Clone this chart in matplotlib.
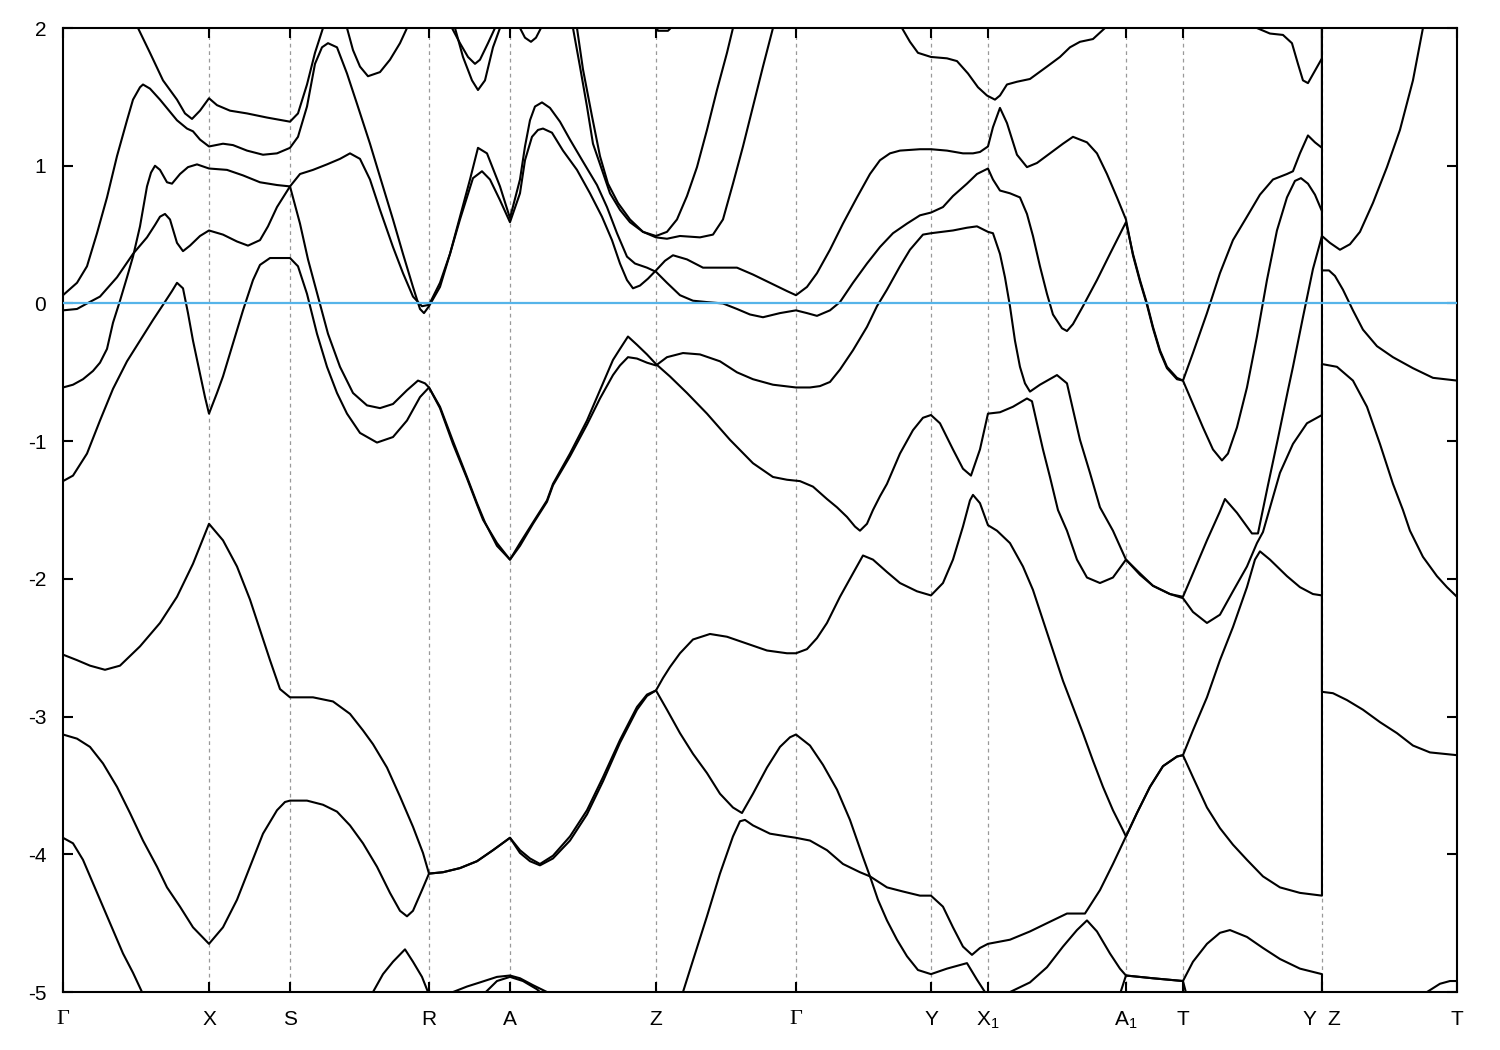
import matplotlib
matplotlib.use("Agg")
import matplotlib.pyplot as plt

plt.rcParams['font.family'] = ['Liberation Sans', 'DejaVu Sans']
plt.rcParams['mathtext.fontset'] = 'custom'
plt.rcParams['mathtext.rm'] = 'Liberation Sans'
plt.rcParams['mathtext.it'] = 'Liberation Sans:italic'
plt.rcParams['mathtext.bf'] = 'Liberation Sans:bold'
plt.rcParams['axes.unicode_minus'] = False

# high-symmetry points along the path (path length units)
kpoints = [0.00, 1.46, 2.27, 3.66, 4.47, 5.93, 7.33, 8.68, 9.25, 10.63, 11.20, 12.59, 13.94]
klabels = ['Γ', 'X', 'S', 'R', 'A', 'Z', 'Γ', 'Y', r'X$_\mathrm{1}$', r'A$_\mathrm{1}$', 'T', 'Y  Z', 'T']

# bands, (k, E in eV)
band_t1 = [(0.72, 2.06), (0.75, 2.00), (0.87, 1.82), (1.00, 1.62), (1.14, 1.48), (1.22, 1.38), (1.29, 1.34),
           (1.37, 1.40), (1.46, 1.49), (1.54, 1.44), (1.67, 1.40), (1.84, 1.38), (2.04, 1.35), (2.27, 1.32),
           (2.35, 1.38), (2.44, 1.59), (2.52, 1.82), (2.60, 2.00), (2.62, 2.06)]

band_t2 = [(0.00, 0.06), (0.14, 0.15), (0.24, 0.27), (0.34, 0.51), (0.44, 0.77), (0.54, 1.07), (0.64, 1.33),
           (0.70, 1.48), (0.77, 1.57), (0.80, 1.59), (0.87, 1.56), (0.97, 1.48), (1.14, 1.33), (1.24, 1.27),
           (1.30, 1.25), (1.37, 1.19), (1.46, 1.14), (1.60, 1.16), (1.70, 1.15), (1.84, 1.11), (2.00, 1.08),
           (2.14, 1.09), (2.27, 1.13), (2.35, 1.21), (2.44, 1.43), (2.52, 1.74), (2.59, 1.86), (2.65, 1.89),
           (2.74, 1.86), (2.84, 1.67), (2.94, 1.45), (3.07, 1.16), (3.17, 0.92), (3.30, 0.61), (3.40, 0.36),
           (3.50, 0.12), (3.57, -0.04), (3.61, -0.07), (3.66, -0.02), (3.77, 0.12), (3.87, 0.36), (3.97, 0.63),
           (4.07, 0.90), (4.15, 1.13), (4.24, 1.09), (4.37, 0.85), (4.47, 0.62),
           (4.57, 0.90), (4.62, 1.14), (4.67, 1.33), (4.72, 1.43), (4.79, 1.46), (4.87, 1.42), (4.97, 1.32),
           (5.07, 1.19), (5.20, 1.03), (5.34, 0.86), (5.44, 0.70), (5.54, 0.51), (5.64, 0.34), (5.72, 0.29),
           (5.84, 0.26), (5.93, 0.23), (6.04, 0.15), (6.17, 0.06), (6.30, 0.02), (6.44, 0.01), (6.60, 0.00),
           (6.74, -0.04), (6.87, -0.08), (7.00, -0.10), (7.17, -0.07), (7.33, -0.05), (7.44, -0.07), (7.54, -0.09),
           (7.67, -0.05), (7.77, 0.01), (7.90, 0.15), (8.04, 0.29), (8.17, 0.41), (8.30, 0.51), (8.44, 0.58),
           (8.57, 0.64), (8.68, 0.66), (8.80, 0.70), (8.90, 0.78), (9.04, 0.87), (9.14, 0.94), (9.25, 0.98),
           (9.30, 0.90), (9.37, 0.82), (9.47, 0.80), (9.57, 0.77), (9.64, 0.65), (9.70, 0.49), (9.77, 0.27),
           (9.84, 0.07), (9.90, -0.08), (9.99, -0.18), (10.04, -0.20), (10.10, -0.15), (10.20, -0.02),
           (10.34, 0.17), (10.47, 0.36), (10.63, 0.59), (10.70, 0.36), (10.77, 0.17), (10.84, 0.00),
           (10.90, -0.17), (10.97, -0.34), (11.04, -0.46), (11.14, -0.54), (11.20, -0.56), (11.30, -0.36),
           (11.44, -0.07), (11.57, 0.22), (11.70, 0.46), (11.84, 0.63), (11.97, 0.79), (12.10, 0.90),
           (12.24, 0.94), (12.30, 0.96), (12.37, 1.09), (12.45, 1.22), (12.52, 1.17), (12.59, 1.13), (12.59, 2.30)]

band_t3 = [(0.00, -0.05), (0.14, -0.04), (0.24, 0.00), (0.37, 0.05), (0.54, 0.19), (0.70, 0.36), (0.84, 0.48),
           (0.92, 0.57), (0.97, 0.63), (1.02, 0.65), (1.07, 0.61), (1.14, 0.44), (1.20, 0.38), (1.27, 0.42),
           (1.37, 0.49), (1.46, 0.53), (1.60, 0.50), (1.74, 0.45), (1.85, 0.42), (1.97, 0.46), (2.05, 0.56),
           (2.14, 0.70), (2.27, 0.85), (2.37, 0.94), (2.50, 0.97), (2.64, 1.01), (2.77, 1.05), (2.87, 1.09),
           (2.97, 1.05), (3.07, 0.90), (3.17, 0.68), (3.30, 0.41), (3.40, 0.22), (3.50, 0.05), (3.59, -0.02),
           (3.66, -0.01), (3.77, 0.15), (3.87, 0.36), (3.97, 0.61), (4.10, 0.91), (4.19, 0.96), (4.27, 0.90),
           (4.37, 0.75), (4.47, 0.59),
           (4.57, 0.80), (4.62, 1.04), (4.69, 1.21), (4.75, 1.26), (4.80, 1.27), (4.89, 1.24), (5.00, 1.11),
           (5.14, 0.97), (5.27, 0.80), (5.39, 0.63), (5.49, 0.46), (5.57, 0.29), (5.64, 0.17), (5.70, 0.11),
           (5.77, 0.13), (5.85, 0.18), (5.93, 0.24), (6.02, 0.31), (6.10, 0.35), (6.24, 0.32), (6.40, 0.26),
           (6.57, 0.26), (6.74, 0.26), (6.90, 0.21), (7.07, 0.15), (7.24, 0.09), (7.33, 0.06), (7.44, 0.12),
           (7.54, 0.22), (7.67, 0.39), (7.80, 0.58), (7.94, 0.77), (8.07, 0.94), (8.17, 1.04), (8.27, 1.09),
           (8.37, 1.11), (8.57, 1.12), (8.68, 1.12), (8.84, 1.11), (9.00, 1.09), (9.10, 1.09), (9.17, 1.10),
           (9.25, 1.14), (9.30, 1.28), (9.37, 1.42), (9.44, 1.31), (9.54, 1.08), (9.64, 0.99), (9.74, 1.02),
           (9.87, 1.09), (10.00, 1.16), (10.10, 1.21), (10.24, 1.17), (10.34, 1.09), (10.44, 0.94),
           (10.54, 0.77), (10.63, 0.61), (10.70, 0.35), (10.77, 0.16), (10.84, -0.01), (10.90, -0.18),
           (10.97, -0.35), (11.04, -0.47), (11.14, -0.55), (11.20, -0.56), (11.30, -0.73), (11.40, -0.90),
           (11.50, -1.06), (11.59, -1.14), (11.65, -1.09), (11.74, -0.90), (11.84, -0.61), (11.94, -0.24),
           (12.04, 0.17), (12.14, 0.53), (12.24, 0.77), (12.32, 0.89), (12.38, 0.91), (12.45, 0.87),
           (12.52, 0.79), (12.59, 0.67),
           (12.59, 0.24), (12.66, 0.24), (12.72, 0.20), (12.80, 0.10), (12.90, -0.05), (13.00, -0.19),
           (13.14, -0.31), (13.30, -0.39), (13.50, -0.47), (13.70, -0.54), (13.94, -0.56)]

band_t4 = [(0.00, -0.61), (0.10, -0.59), (0.20, -0.55), (0.30, -0.49), (0.37, -0.43), (0.44, -0.33),
           (0.50, -0.14), (0.57, 0.02), (0.64, 0.19), (0.70, 0.34), (0.77, 0.56), (0.84, 0.85), (0.88, 0.95),
           (0.92, 1.00), (0.97, 0.97), (1.04, 0.88), (1.09, 0.87), (1.17, 0.94), (1.25, 0.99), (1.34, 1.01),
           (1.46, 0.98), (1.64, 0.97), (1.80, 0.93), (1.97, 0.88), (2.14, 0.86), (2.27, 0.85), (2.37, 0.58),
           (2.45, 0.32), (2.55, 0.05), (2.65, -0.22), (2.77, -0.46), (2.90, -0.65), (3.04, -0.74),
           (3.17, -0.76), (3.30, -0.73), (3.44, -0.63), (3.55, -0.56), (3.62, -0.58), (3.66, -0.61),
           (3.77, -0.76), (3.90, -1.02), (4.04, -1.27), (4.14, -1.46), (4.20, -1.57), (4.34, -1.74),
           (4.47, -1.86),
           (4.57, -1.74), (4.70, -1.59), (4.84, -1.43), (4.90, -1.31), (5.07, -1.09), (5.24, -0.85),
           (5.37, -0.63), (5.50, -0.41), (5.57, -0.33), (5.65, -0.24), (5.74, -0.30), (5.84, -0.37),
           (5.93, -0.44), (6.07, -0.53), (6.24, -0.65), (6.44, -0.80), (6.67, -0.99), (6.90, -1.16),
           (7.10, -1.26), (7.24, -1.28), (7.37, -1.29), (7.50, -1.33), (7.64, -1.42), (7.74, -1.48),
           (7.84, -1.55), (7.92, -1.62), (7.97, -1.65), (8.04, -1.60), (8.10, -1.50), (8.17, -1.40),
           (8.24, -1.31), (8.37, -1.09), (8.50, -0.92), (8.60, -0.83), (8.68, -0.81), (8.77, -0.87),
           (8.90, -1.06), (9.00, -1.20), (9.08, -1.25), (9.17, -1.06), (9.25, -0.80), (9.37, -0.79),
           (9.50, -0.75), (9.64, -0.69), (9.69, -0.71), (9.74, -0.87), (9.80, -1.06), (9.87, -1.26),
           (9.95, -1.50), (10.04, -1.65), (10.14, -1.86), (10.24, -1.99), (10.37, -2.03), (10.50, -1.99),
           (10.63, -1.86), (10.77, -1.96), (10.90, -2.05), (11.07, -2.11), (11.20, -2.14), (11.30, -2.24),
           (11.44, -2.32), (11.57, -2.26), (11.70, -2.09), (11.84, -1.91), (11.94, -1.74), (12.00, -1.66),
           (12.17, -1.23), (12.30, -1.02), (12.44, -0.87), (12.59, -0.81),
           (12.59, 0.49), (12.67, 0.44), (12.77, 0.39), (12.87, 0.43), (12.97, 0.52), (13.10, 0.73),
           (13.24, 0.99), (13.37, 1.26), (13.50, 1.62), (13.60, 2.00), (13.62, 2.06)]

band_t5 = [(0.00, -1.29), (0.10, -1.25), (0.24, -1.09), (0.37, -0.85), (0.50, -0.62), (0.64, -0.42),
           (0.77, -0.27), (0.90, -0.12), (1.00, -0.01), (1.09, 0.09), (1.14, 0.15), (1.20, 0.11), (1.25, -0.07),
           (1.30, -0.27), (1.37, -0.51), (1.42, -0.68), (1.46, -0.80), (1.54, -0.65), (1.60, -0.53),
           (1.70, -0.29), (1.80, -0.05), (1.90, 0.17), (1.97, 0.28), (2.07, 0.33), (2.27, 0.33), (2.35, 0.27),
           (2.44, 0.07), (2.54, -0.22), (2.64, -0.46), (2.74, -0.65), (2.84, -0.80), (2.97, -0.94),
           (3.14, -1.01), (3.30, -0.97), (3.44, -0.85), (3.57, -0.68), (3.66, -0.61), (3.77, -0.75),
           (3.90, -1.00), (4.04, -1.26), (4.14, -1.45), (4.22, -1.59), (4.34, -1.76), (4.47, -1.86),
           (4.57, -1.76), (4.70, -1.60), (4.84, -1.44), (4.90, -1.32), (5.07, -1.11), (5.24, -0.88),
           (5.37, -0.69), (5.50, -0.52), (5.57, -0.45), (5.65, -0.39), (5.74, -0.40), (5.84, -0.43),
           (5.93, -0.45), (6.04, -0.39), (6.20, -0.36), (6.37, -0.37), (6.57, -0.42), (6.74, -0.50),
           (6.90, -0.55), (7.10, -0.59), (7.33, -0.61), (7.47, -0.61), (7.57, -0.60), (7.67, -0.57),
           (7.77, -0.48), (7.90, -0.34), (8.04, -0.17), (8.14, -0.02), (8.24, 0.10), (8.37, 0.27),
           (8.47, 0.39), (8.60, 0.50), (8.68, 0.51), (8.90, 0.53), (9.04, 0.55), (9.14, 0.56), (9.25, 0.52),
           (9.30, 0.51), (9.37, 0.36), (9.42, 0.19), (9.47, -0.02), (9.52, -0.27), (9.57, -0.46),
           (9.62, -0.58), (9.67, -0.64), (9.77, -0.59), (9.94, -0.52), (10.04, -0.58), (10.10, -0.77),
           (10.17, -0.99), (10.27, -1.23), (10.37, -1.48), (10.50, -1.65), (10.63, -1.86), (10.77, -1.97),
           (10.90, -2.05), (11.07, -2.11), (11.20, -2.13), (11.30, -1.96), (11.44, -1.72), (11.57, -1.51),
           (11.62, -1.42), (11.74, -1.52), (11.84, -1.62), (11.89, -1.67), (11.95, -1.67), (12.05, -1.32),
           (12.15, -0.98), (12.25, -0.63), (12.30, -0.46), (12.40, -0.10), (12.50, 0.25), (12.59, 0.49),
           (12.59, 2.30)]

band_t6 = [(2.82, 2.06), (2.84, 2.00), (2.90, 1.84), (2.97, 1.72), (3.05, 1.65), (3.17, 1.68), (3.27, 1.77),
           (3.37, 1.89), (3.44, 2.00), (3.46, 2.06)]
band_t7 = [(3.87, 2.06), (3.89, 2.00), (3.97, 1.89), (4.05, 1.79), (4.12, 1.74), (4.17, 1.77), (4.25, 1.89),
           (4.32, 2.00), (4.34, 2.06)]
band_t8 = [(3.90, 2.06), (3.92, 2.00), (4.00, 1.79), (4.09, 1.62), (4.15, 1.55), (4.22, 1.62), (4.30, 1.86),
           (4.37, 2.00), (4.39, 2.06)]
band_t9 = [(4.55, 2.06), (4.57, 2.00), (4.62, 1.93), (4.68, 1.90), (4.73, 1.93), (4.78, 2.00), (4.80, 2.06)]
band_t10 = [(5.90, 2.06), (5.95, 1.98), (6.05, 1.98), (6.12, 2.03)]

band_zp1 = [(5.08, 2.06), (5.10, 2.00), (5.17, 1.72), (5.24, 1.43), (5.30, 1.16), (5.39, 0.97), (5.47, 0.80),
            (5.57, 0.68), (5.67, 0.59), (5.80, 0.52), (5.93, 0.49), (6.04, 0.52), (6.14, 0.61), (6.24, 0.78),
            (6.34, 0.99), (6.44, 1.26), (6.54, 1.55), (6.64, 1.82), (6.70, 2.00), (6.72, 2.06)]
band_zp2 = [(5.12, 2.06), (5.14, 2.00), (5.20, 1.70), (5.29, 1.36), (5.37, 1.07), (5.45, 0.87), (5.55, 0.73),
            (5.67, 0.61), (5.80, 0.52), (5.93, 0.48), (6.04, 0.47), (6.17, 0.49), (6.37, 0.48), (6.50, 0.50),
            (6.60, 0.61), (6.70, 0.87), (6.80, 1.14), (6.90, 1.43), (7.00, 1.72), (7.10, 2.00), (7.12, 2.06)]

band_topy = [(8.37, 2.06), (8.39, 2.00), (8.47, 1.90), (8.55, 1.82), (8.68, 1.79), (8.84, 1.78), (8.94, 1.76),
             (9.05, 1.67), (9.15, 1.57), (9.24, 1.51), (9.32, 1.48), (9.37, 1.51), (9.44, 1.59), (9.54, 1.61),
             (9.67, 1.63), (9.84, 1.72), (9.97, 1.79), (10.07, 1.86), (10.17, 1.90), (10.30, 1.92),
             (10.42, 2.00), (10.45, 2.06)]
band_topr = [(11.92, 2.06), (11.94, 2.00), (12.07, 1.96), (12.20, 1.95), (12.29, 1.89), (12.35, 1.74),
             (12.40, 1.62), (12.45, 1.60), (12.52, 1.69), (12.59, 1.78), (12.59, 2.30)]

band_b1 = [(0.00, -2.55), (0.14, -2.59), (0.27, -2.63), (0.42, -2.66), (0.57, -2.63), (0.77, -2.49),
           (0.97, -2.32), (1.14, -2.13), (1.30, -1.89), (1.46, -1.60), (1.60, -1.72), (1.74, -1.91),
           (1.87, -2.15), (1.97, -2.37), (2.07, -2.59), (2.17, -2.80), (2.27, -2.86), (2.50, -2.86),
           (2.70, -2.89), (2.87, -2.98), (3.00, -3.10), (3.10, -3.20), (3.24, -3.37), (3.37, -3.58),
           (3.50, -3.80), (3.60, -3.99), (3.66, -4.14), (3.80, -4.13), (3.97, -4.10), (4.14, -4.05),
           (4.30, -3.97), (4.47, -3.88), (4.57, -3.97), (4.67, -4.03), (4.77, -4.07), (4.90, -4.01),
           (5.07, -3.87), (5.24, -3.68), (5.40, -3.44), (5.57, -3.17), (5.74, -2.93), (5.84, -2.84),
           (5.93, -2.81), (6.00, -2.72), (6.07, -2.64), (6.17, -2.54), (6.30, -2.44), (6.47, -2.40),
           (6.64, -2.42), (6.84, -2.47), (7.04, -2.52), (7.24, -2.54), (7.33, -2.54), (7.44, -2.51),
           (7.54, -2.43), (7.64, -2.32), (7.77, -2.13), (7.90, -1.96), (8.00, -1.83), (8.10, -1.86),
           (8.24, -1.95), (8.37, -2.03), (8.54, -2.09), (8.68, -2.12), (8.80, -2.03), (8.90, -1.86),
           (9.00, -1.62), (9.07, -1.43), (9.10, -1.39), (9.17, -1.45), (9.25, -1.61), (9.34, -1.65),
           (9.47, -1.74), (9.60, -1.91), (9.70, -2.08), (9.80, -2.30), (9.90, -2.52), (10.00, -2.74),
           (10.10, -2.93), (10.20, -3.12), (10.30, -3.32), (10.40, -3.51), (10.50, -3.68), (10.59, -3.81),
           (10.63, -3.87), (10.74, -3.70), (10.87, -3.51), (11.00, -3.36), (11.14, -3.29), (11.20, -3.28),
           (11.30, -3.10), (11.44, -2.86), (11.57, -2.59), (11.70, -2.35), (11.84, -2.06), (11.92, -1.86),
           (11.97, -1.80), (12.07, -1.86), (12.24, -1.98), (12.37, -2.06), (12.50, -2.11), (12.59, -2.12),
           (12.59, -2.82), (12.70, -2.83), (12.84, -2.88), (13.00, -2.95), (13.17, -3.04), (13.34, -3.12),
           (13.50, -3.21), (13.67, -3.26), (13.94, -3.28)]

band_b2 = [(0.00, -3.13), (0.14, -3.16), (0.27, -3.22), (0.40, -3.34), (0.54, -3.51), (0.67, -3.70),
           (0.80, -3.90), (0.94, -4.09), (1.04, -4.24), (1.17, -4.38), (1.30, -4.53), (1.46, -4.65),
           (1.60, -4.53), (1.74, -4.33), (1.87, -4.09), (2.00, -3.85), (2.14, -3.68), (2.22, -3.62),
           (2.27, -3.61), (2.44, -3.61), (2.60, -3.64), (2.74, -3.69), (2.87, -3.79), (3.00, -3.92),
           (3.14, -4.09), (3.27, -4.28), (3.37, -4.41), (3.44, -4.45), (3.50, -4.41), (3.59, -4.26),
           (3.66, -4.14), (3.80, -4.13), (3.97, -4.10), (4.14, -4.05), (4.30, -3.97), (4.47, -3.88),
           (4.57, -3.99), (4.67, -4.05), (4.77, -4.08), (4.90, -4.03), (5.07, -3.90), (5.24, -3.71),
           (5.40, -3.47), (5.57, -3.19), (5.74, -2.95), (5.84, -2.85), (5.93, -2.81), (6.04, -2.95),
           (6.17, -3.12), (6.30, -3.27), (6.44, -3.41), (6.57, -3.56), (6.70, -3.66), (6.79, -3.70),
           (6.90, -3.56), (7.04, -3.37), (7.17, -3.22), (7.27, -3.15), (7.33, -3.13), (7.47, -3.21),
           (7.60, -3.35), (7.74, -3.53), (7.87, -3.75), (8.00, -4.02), (8.07, -4.16), (8.15, -4.33),
           (8.24, -4.48), (8.34, -4.62), (8.44, -4.74), (8.55, -4.84), (8.68, -4.87), (8.84, -4.83),
           (9.04, -4.79), (9.14, -4.91), (9.22, -5.00), (9.30, -5.11)]

band_b3 = [(0.00, -3.88), (0.10, -3.92), (0.20, -4.04), (0.30, -4.21), (0.40, -4.38), (0.50, -4.55),
           (0.60, -4.72), (0.70, -4.86), (0.79, -5.00), (0.85, -5.11)]
band_b4 = [(3.07, -5.08), (3.10, -5.00), (3.20, -4.87), (3.30, -4.78), (3.42, -4.69), (3.50, -4.78),
           (3.59, -4.89), (3.65, -5.00), (3.67, -5.05)]
band_b5 = [(3.87, -5.03), (3.90, -5.00), (4.04, -4.96), (4.17, -4.93), (4.34, -4.89), (4.47, -4.88),
           (4.57, -4.90), (4.70, -4.95), (4.84, -5.00), (4.88, -5.03)]
band_b6 = [(4.20, -5.02), (4.34, -4.92), (4.47, -4.89), (4.60, -4.92), (4.74, -4.98), (4.80, -5.02)]

band_zs = [(6.15, -5.11), (6.20, -5.00), (6.30, -4.77), (6.44, -4.45), (6.57, -4.14), (6.70, -3.87),
           (6.77, -3.76), (6.82, -3.75), (6.90, -3.79), (7.07, -3.85), (7.24, -3.87), (7.33, -3.88),
           (7.47, -3.90), (7.64, -3.97), (7.80, -4.07), (7.97, -4.13), (8.07, -4.16), (8.24, -4.24),
           (8.40, -4.27), (8.57, -4.30), (8.68, -4.30), (8.80, -4.38), (8.90, -4.53), (9.00, -4.67),
           (9.09, -4.73), (9.17, -4.68), (9.25, -4.65), (9.47, -4.62), (9.67, -4.56), (9.84, -4.50),
           (10.04, -4.43), (10.22, -4.43), (10.37, -4.26), (10.50, -4.07), (10.63, -3.87), (10.74, -3.70),
           (10.87, -3.51), (11.00, -3.36), (11.14, -3.29), (11.20, -3.28), (11.30, -3.44), (11.44, -3.66),
           (11.57, -3.81), (11.70, -3.93), (11.84, -4.04), (12.00, -4.16), (12.17, -4.24), (12.37, -4.28),
           (12.59, -4.30),
           (12.59, -0.44), (12.74, -0.46), (12.90, -0.56), (13.04, -0.75), (13.17, -1.02), (13.30, -1.31),
           (13.40, -1.50), (13.47, -1.65), (13.60, -1.84), (13.74, -1.98), (13.84, -2.06), (13.94, -2.13)]

band_zt = [(9.37, -5.11), (9.47, -5.00), (9.67, -4.93), (9.84, -4.82), (10.00, -4.67), (10.14, -4.55),
           (10.24, -4.48), (10.34, -4.56), (10.47, -4.72), (10.57, -4.83), (10.63, -4.88), (10.90, -4.90),
           (11.20, -4.92), (11.30, -4.78), (11.44, -4.65), (11.57, -4.57), (11.67, -4.55), (11.84, -4.60),
           (12.00, -4.68), (12.17, -4.76), (12.37, -4.83), (12.59, -4.87),
           (12.59, -5.30), (13.40, -5.20), (13.64, -5.00), (13.77, -4.94), (13.87, -4.92), (13.94, -4.92)]
band_zt2 = [(10.55, -5.06), (10.63, -4.88), (10.90, -4.90), (11.20, -4.92), (11.25, -5.06)]

bands = [band_t1, band_t2, band_t3, band_t4, band_t5, band_t6, band_t7, band_t8, band_t9, band_t10,
         band_zp1, band_zp2, band_topy, band_topr, band_b1, band_b2, band_b3, band_b4, band_b5, band_b6,
         band_zs, band_zt, band_zt2]

fig = plt.figure(figsize=(15, 10.5), dpi=100)
ax = fig.add_axes([0.042, 0.0552, 0.9293, 0.9181])

# dashed lines at the high-symmetry points
for kp in kpoints[1:-1]:
    ax.axvline(kp, color='#999999', lw=0.9, ls=(0, (3, 3)), zorder=0)

for b in bands:
    k = [p[0] for p in b]
    e = [p[1] for p in b]
    ax.plot(k, e, color='black', lw=1.5, solid_joinstyle='round', zorder=2)

# Fermi level
ax.axhline(0.0, color='#56B4E9', lw=1.6, zorder=3)

ax.set_xlim(kpoints[0], kpoints[-1])
ax.set_ylim(-5, 2)
ax.set_xticks(kpoints)
ax.set_xticklabels(klabels)
ax.set_yticks(range(-5, 3))
ax.set_yticklabels([str(v) for v in range(-5, 3)])

ax.tick_params(axis='both', direction='in', length=7, width=1.5, top=True, right=True, labelsize=15)
ax.tick_params(axis='x', pad=13)
ax.tick_params(axis='y', pad=12)
for lbl in ax.get_xticklabels():
    if lbl.get_text() == 'Γ':
        lbl.set_fontfamily(['Liberation Serif', 'DejaVu Serif'])
        lbl.set_fontsize(16)

for s in ax.spines.values():
    s.set_linewidth(1.5)

plt.savefig('out.png', dpi=100)
